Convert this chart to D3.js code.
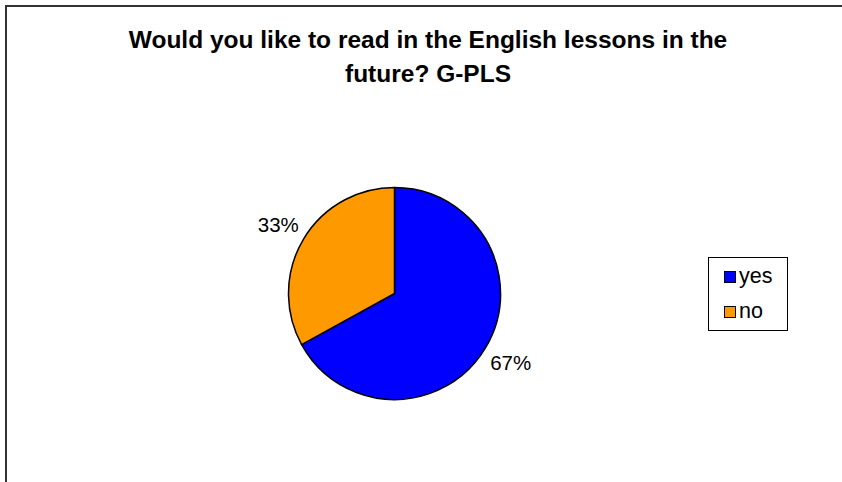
<!DOCTYPE html>
<html>
<head>
<meta charset="utf-8">
<script src="https://cdn.jsdelivr.net/npm/d3@7"></script>
<style>
  html, body { margin: 0; padding: 0; background: #fff; }
  svg { display: block; }
  text { font-family: "Liberation Sans", Arial, sans-serif; fill: #000; }
</style>
</head>
<body>
<svg id="chart" width="842" height="482"></svg>
<script>
// Survey answers
const categories = ["yes", "no"];
const values = [67, 33];
const colors = ["#0000FF", "#FF9900"];
const titleLines = [
  "Would you like to read in the English lessons in the",
  "future? G-PLS"
];

const svg = d3.select("#chart");
const W = 842, H = 482;

// outer chart frame (continues past the right and bottom edges)
svg.append("rect")
  .attr("x", 6).attr("y", 6)
  .attr("width", W + 20).attr("height", H + 20)
  .attr("fill", "#fff")
  .attr("stroke", "#333").attr("stroke-width", 2);

// title
const title = svg.append("text")
  .attr("text-anchor", "middle")
  .attr("font-weight", "bold")
  .attr("font-size", 24.5);
titleLines.forEach((t, i) => {
  title.append("tspan")
    .attr("x", 428)
    .attr("y", 48 + i * 34)
    .text(t);
});

// pie
const cx = 394.5, cy = 293.5, r = 106;
const pie = d3.pie().sort(null).value(d => d.value);
const arcs = pie(categories.map((c, i) => ({ name: c, value: values[i], color: colors[i] })));
const arc = d3.arc().innerRadius(0).outerRadius(r);
const labelArc = d3.arc().innerRadius(135).outerRadius(135);

const g = svg.append("g").attr("transform", `translate(${cx},${cy})`);
g.selectAll("path.slice")
  .data(arcs)
  .join("path")
  .attr("class", "slice")
  .attr("d", arc)
  .attr("fill", d => d.data.color)
  .attr("stroke", "#000")
  .attr("stroke-width", 1.5)
  .attr("stroke-linejoin", "round");

const total = d3.sum(values);
g.selectAll("text.lbl")
  .data(arcs)
  .join("text")
  .attr("class", "lbl")
  .attr("transform", d => `translate(${labelArc.centroid(d)})`)
  .attr("text-anchor", "middle")
  .attr("dy", "0.36em")
  .attr("font-size", 20.5)
  .text(d => Math.round(d.data.value / total * 100) + "%");

// legend
const lg = svg.append("g").attr("transform", "translate(708,257)");
lg.append("rect")
  .attr("x", 0.5).attr("y", 0.5)
  .attr("width", 79).attr("height", 73)
  .attr("fill", "#fff")
  .attr("stroke", "#000").attr("stroke-width", 1);
const item = lg.selectAll("g.item")
  .data(categories.map((c, i) => ({ name: c, color: colors[i] })))
  .join("g")
  .attr("class", "item")
  .attr("transform", (d, i) => `translate(16,${14 + i * 35})`);
item.append("rect")
  .attr("x", 0.5).attr("y", 0.5)
  .attr("width", 11).attr("height", 11)
  .attr("fill", d => d.color)
  .attr("stroke", "#000").attr("stroke-width", 1);
item.append("text")
  .attr("x", 15).attr("y", 12)
  .attr("font-size", 21.5)
  .text(d => d.name);
</script>
</body>
</html>
